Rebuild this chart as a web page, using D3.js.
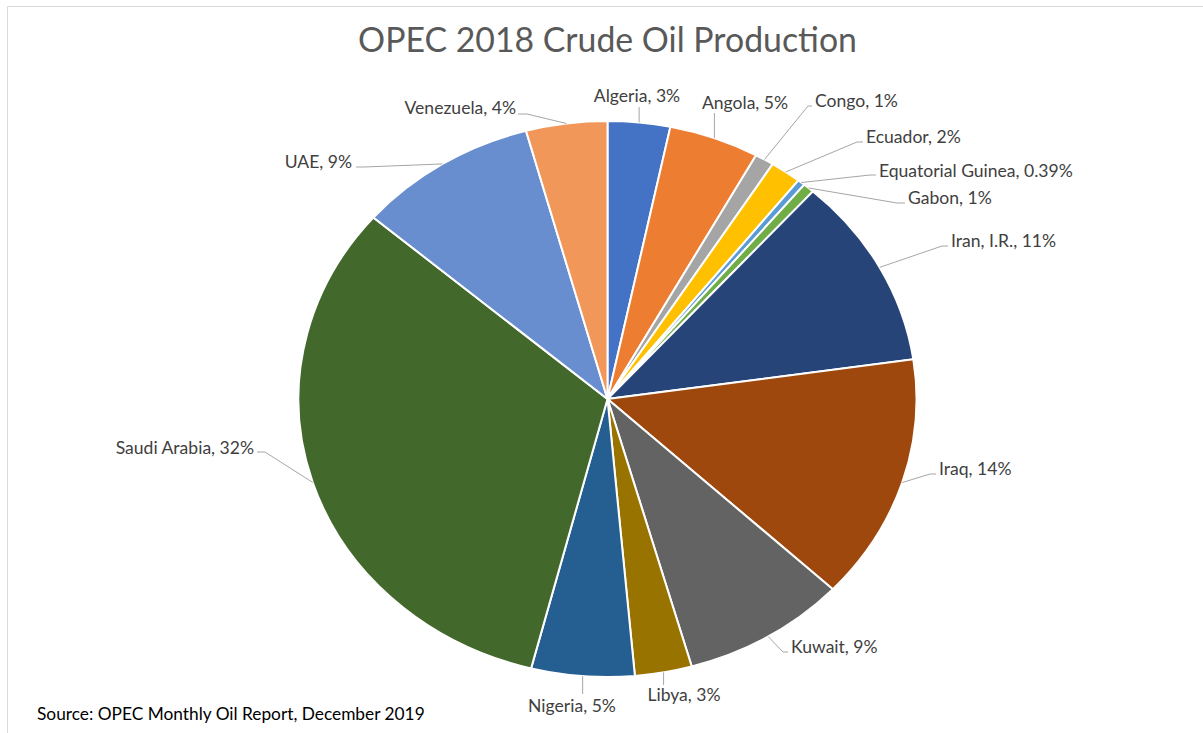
<!DOCTYPE html>
<html>
<head>
<meta charset="utf-8">
<script src="https://cdn.jsdelivr.net/npm/d3@7"></script>
<style>
  html, body { margin: 0; padding: 0; background: #fff; }
  svg { display: block; }
</style>
</head>
<body>
<svg id="chart" width="1203" height="733"></svg>
<script>
// OPEC crude oil production 2018, thousand barrels per day (secondary sources)
const countries = ["Algeria", "Angola", "Congo", "Ecuador", "Equatorial Guinea", "Gabon",
  "Iran, I.R.", "Iraq", "Kuwait", "Libya", "Nigeria", "Saudi Arabia", "UAE", "Venezuela"];
const production = [1040, 1505, 317, 517, 125, 187, 3553, 4550, 2745, 951, 1718, 10311, 3008, 1354];
const sliceColors = ["#4472C4", "#ED7D31", "#A5A5A5", "#FFC000", "#5B9BD5", "#70AD47",
  "#264478", "#9E480E", "#636363", "#997300", "#255E91", "#43682B", "#698ED0", "#F1975A"];

const titleText = "OPEC 2018 Crude Oil Production";
const sourceText = "Source: OPEC Monthly Oil Report, December 2019";

// Label placement: text centre, text anchor, and where the leader line meets the label
const labelLayout = [
  { x: 637, y: 96,  anchor: "middle", end: [null, 107], stub: 0 },
  { x: 745, y: 103, anchor: "middle", end: [null, 113], stub: 0 },
  { x: 815, y: 101, anchor: "start",  end: [812, 106], stub: -4 },
  { x: 866, y: 137, anchor: "start",  end: [863, 142], stub: -6 },
  { x: 879, y: 171, anchor: "start",  end: [876, 175], stub: -6 },
  { x: 908, y: 198, anchor: "start",  end: [905, 203], stub: -8 },
  { x: 951, y: 241, anchor: "start",  end: [948, 246], stub: -6 },
  { x: 939, y: 469, anchor: "start",  end: [936, 474], stub: -6 },
  { x: 791, y: 647, anchor: "start",  end: [788, 652], stub: -5 },
  { x: 684, y: 695, anchor: "middle", end: [null, 685], stub: 0 },
  { x: 572, y: 706, anchor: "middle", end: [null, 694], stub: 0 },
  { x: 254, y: 448, anchor: "end",    end: [257, 452], stub: 8 },
  { x: 352, y: 162, anchor: "end",    end: [356, 167], stub: 8 },
  { x: 516, y: 108, anchor: "end",    end: [518, 114], stub: 9 }
];

const W = 1203, H = 733;
const cx = 607.5, cy = 399, rx = 309, ry = 278;
const fontFamily = "Lato, 'Open Sans', 'Liberation Sans', sans-serif";

const svg = d3.select("#chart");

// Fit a font size so that a given string spans a target width
function fitSize(str, target) {
  const t = svg.append("text").attr("font-family", fontFamily).attr("font-size", 100).text(str);
  const w = t.node().getComputedTextLength();
  t.remove();
  return 100 * target / w;
}

// Chart area frame
svg.append("path")
  .attr("d", `M7.5,${H} V6.5 H${W}`)
  .attr("fill", "none")
  .attr("stroke", "#d9d9d9")
  .attr("stroke-width", 1);

// Title
svg.append("text")
  .attr("x", cx).attr("y", 40).attr("dy", "0.35em")
  .attr("text-anchor", "middle")
  .attr("font-family", fontFamily)
  .attr("font-size", fitSize(titleText, 499))
  .attr("fill", "#595959")
  .text(titleText);

const total = d3.sum(production);
const data = countries.map((c, i) => ({ name: c, value: production[i], color: sliceColors[i], layout: labelLayout[i] }));

const pie = d3.pie().value(d => d.value).sort(null).startAngle(0).endAngle(2 * Math.PI);
const arcs = pie(data);
const arc = d3.arc().innerRadius(0).outerRadius(ry);
const sx = rx / ry;

const g = svg.append("g").attr("transform", `translate(${cx},${cy}) scale(${sx},1)`);
g.selectAll("path.slice")
  .data(arcs)
  .join("path")
  .attr("class", "slice")
  .attr("d", arc)
  .attr("fill", d => d.data.color)
  .attr("stroke", "#fff")
  .attr("stroke-width", 2)
  .attr("vector-effect", "non-scaling-stroke");

// Point on the outer rim at a slice's middle angle
function rimPoint(a) {
  const m = (a.startAngle + a.endAngle) / 2;
  return [cx + rx * Math.sin(m), cy - ry * Math.cos(m)];
}

function pctLabel(v) {
  const p = v / total * 100;
  return Math.round(p) === 0 ? p.toFixed(2) + "%" : Math.round(p) + "%";
}

const labelSize = fitSize("Equatorial Guinea, 0.39%", 194);

// Leader lines
svg.append("g").selectAll("path")
  .data(arcs)
  .join("path")
  .attr("d", a => {
    const L = a.data.layout;
    const p0 = rimPoint(a);
    const ex = L.end[0] === null ? p0[0] : L.end[0];
    const ey = L.end[1];
    const elbow = [ex + L.stub, ey];
    return d3.line()([p0, elbow, [ex, ey]]);
  })
  .attr("fill", "none")
  .attr("stroke", "#a6a6a6")
  .attr("stroke-width", 1);

// Data labels
svg.append("g").selectAll("text")
  .data(arcs)
  .join("text")
  .attr("x", a => a.data.layout.x)
  .attr("y", a => a.data.layout.y)
  .attr("dy", "0.35em")
  .attr("text-anchor", a => a.data.layout.anchor)
  .attr("font-family", fontFamily)
  .attr("font-size", labelSize)
  .attr("fill", "#404040")
  .text(a => `${a.data.name}, ${pctLabel(a.data.value)}`);

// Source note
svg.append("text")
  .attr("x", 37).attr("y", 714).attr("dy", "0.35em")
  .attr("font-family", fontFamily)
  .attr("font-size", fitSize(sourceText, 388))
  .attr("fill", "#000")
  .text(sourceText);
</script>
</body>
</html>
